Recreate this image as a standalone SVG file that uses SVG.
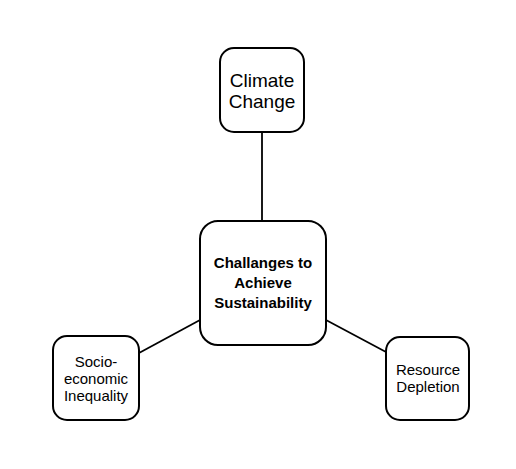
<svg xmlns="http://www.w3.org/2000/svg" width="516" height="469" viewBox="0 0 516 469">
<style>
.box{fill:#fff;stroke:#000;stroke-width:2}
.edge{stroke:#000;stroke-width:1.8;fill:none}
text{font-family:"Liberation Sans",Arial,sans-serif;fill:#000;text-anchor:middle}
.b{font-weight:bold}
</style>
<rect width="516" height="469" fill="#fff"/>
<g id="connectors">
<line class="edge" x1="262" y1="133" x2="262" y2="221"/>
<line class="edge" x1="139" y1="353" x2="200" y2="320"/>
<line class="edge" x1="326" y1="320" x2="386" y2="352"/>
</g>
<g id="climate">
<rect class="box" x="220" y="48" width="84" height="84" rx="14"/>
<text x="262" y="87" font-size="19">Climate</text>
<text x="262" y="108" font-size="19">Change</text>
</g>
<g id="center">
<rect class="box" x="200" y="221" width="126" height="124" rx="18"/>
<text class="b" x="263" y="268" font-size="15">Challanges to</text>
<text class="b" x="263" y="288" font-size="15">Achieve</text>
<text class="b" x="263" y="308" font-size="15">Sustainability</text>
</g>
<g id="socio">
<rect class="box" x="53" y="336" width="86" height="84" rx="14"/>
<text x="96" y="367" font-size="15">Socio-</text>
<text x="96" y="384" font-size="15">economic</text>
<text x="96" y="401" font-size="15">Inequality</text>
</g>
<g id="resource">
<rect class="box" x="386" y="337" width="83" height="83" rx="14"/>
<text x="428" y="375" font-size="15">Resource</text>
<text x="428" y="392" font-size="15">Depletion</text>
</g>
</svg>
